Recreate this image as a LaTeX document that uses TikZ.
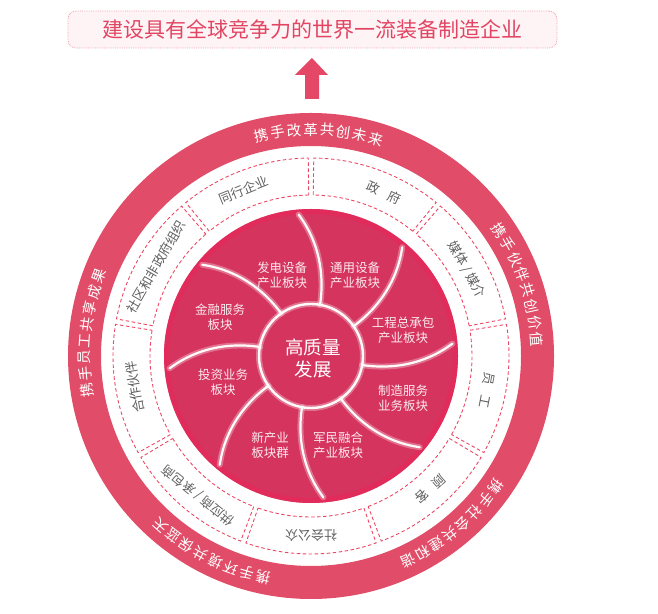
\documentclass[tikz,border=0pt]{standalone}
\usepackage{fontspec}
\setmainfont{Noto Sans CJK SC}
\definecolor{ringred}{RGB}{225,77,104}
\definecolor{diskred}{RGB}{213,52,94}
\definecolor{rimred}{RGB}{233,38,88}
\definecolor{dashred}{RGB}{236,72,102}
\definecolor{labgray}{RGB}{95,95,95}
\definecolor{bannerfill}{RGB}{254,244,246}
\definecolor{bannerline}{RGB}{240,160,175}
\definecolor{bannertext}{RGB}{226,68,98}
\definecolor{arrowred}{RGB}{228,72,102}
\definecolor{innertext}{RGB}{252,234,238}
\newcommand\ringtext[3]{%
  \foreach \ch [count=\i] in {#3} {%
    \pgfmathsetmacro\ang{#1-(\i-4.5)*4.2}%
    \node[outertxt, rotate=\ang-90] (#2-\i) at (\ang:226.5) {\ch};%
  }%
}
\begin{document}
\begin{tikzpicture}[x=1pt,y=1pt,
  outertxt/.style={text=white, font=\fontsize{14.5}{14.5}\selectfont, inner sep=0pt},
  midtxt/.style={text=labgray, font=\fontsize{13}{13}\selectfont, inner sep=0pt},
  sectxt/.style={text=innertext, font=\fontsize{12.5}{15}\selectfont, align=center, inner sep=0pt},
  centtxt/.style={text=white, font=\fontsize{18.5}{22}\selectfont, align=center, inner sep=0pt},
  segdash/.style={draw=dashred, line width=0.9pt, dash pattern=on 3.5pt off 2.5pt},
  armglow/.style={line width=6pt, color=white, opacity=0.3, line cap=round},
  armline/.style={line width=2.2pt, color=white!92!pink, line cap=round},
  banner/.style={draw=bannerline, densely dotted, line width=0.8pt, fill=bannerfill,
    rounded corners=8pt, minimum width=489pt, minimum height=37pt,
    text=bannertext, font=\fontsize{21}{21}\selectfont, inner sep=0pt},
]
\useasboundingbox (0,0) rectangle (658,613);
% banner
\node[banner] (goal) at (312.5,583.5) {建设具有全球竞争力的世界一流装备制造企业};
% arrow
\fill[arrowred] (305,514) -- (305,538) -- (295,538) -- (312,555) -- (328,538) -- (319,538) -- (319,514) -- cycle;
\begin{scope}[shift={(311,257)}]
  % outer ring
  \fill[ringred, even odd rule] (0,0) circle (243) (0,0) circle (210);
  % middle ring segments
  \foreach \k in {0,...,8} {
    \pgfmathsetmacro\e{90-40*\k-0.8}
    \pgfmathsetmacro\s{90-40*\k-40+0.8}
    \draw[segdash] (\s:161) arc[start angle=\s, end angle=\e, radius=161]
      -- (\e:198) arc[start angle=\e, end angle=\s, radius=198] -- cycle;
  }
  % inner disk
  \fill[diskred] (0,0) circle (147);
  \draw[rimred, line width=5pt, opacity=0.6] (0,0) circle (144.5);
  % arms
  \foreach \a in {80,35,-10,-55,-100,-145,170,125} {
    \draw[armglow] plot[smooth, variable=\t, domain=0:1, samples=12]
      ({(52+90*\t)*cos(\a+15*\t*sqrt(\t))}, {(52+90*\t)*sin(\a+15*\t*sqrt(\t))});
    \draw[armline] plot[smooth, variable=\t, domain=0:1, samples=12]
      ({(52+90*\t)*cos(\a+15*\t*sqrt(\t))}, {(52+90*\t)*sin(\a+15*\t*sqrt(\t))});
  }
  % center circle
  \draw[white, line width=6pt, opacity=0.3] (0,0) circle (52);
  \draw[white!92!pink, line width=2.4pt] (0,0) circle (52);
  \node[centtxt] (core) at (2,-2) {高质量\\发展};
  % sector labels
  \node[sectxt] (s1) at (-29,81) {发电设备\\产业板块};
  \node[sectxt] (s2) at (44,81) {通用设备\\产业板块};
  \node[sectxt] (s3) at (92,26) {工程总承包\\产业板块};
  \node[sectxt] (s4) at (92,-42) {制造服务\\业务板块};
  \node[sectxt] (s5) at (27,-89) {军民融合\\产业板块};
  \node[sectxt] (s6) at (-41,-89) {新产业\\板块群};
  \node[sectxt] (s7) at (-88,-26) {投资业务\\板块};
  \node[sectxt] (s8) at (-91,39) {金融服务\\板块};
  % middle ring labels
  \node[midtxt, rotate=22] (m1) at (112:179) {同行企业};
  \node[midtxt, rotate=-24] (m2) at (66:179) {政\hspace{0.8em}府};
  \node[midtxt, rotate=-61] (m3) at (29:178) {媒体\hspace{0.2em}/\hspace{0.2em}媒介};
  \node[midtxt, rotate=-101] (m4) at (-11:179) {员\hspace{0.8em}工};
  \node[midtxt, rotate=-138] (m5) at (-48:179) {顾\hspace{0.8em}客};
  \node[midtxt, rotate=-180] (m6) at (-90:179) {社会公众};
  \node[midtxt, rotate=-219] (m7) at (-129:179) {供应商\hspace{0.2em}/\hspace{0.2em}承包商};
  \node[midtxt, rotate=100] (m8) at (190:179) {合作伙伴};
  \node[midtxt, rotate=60] (m9) at (150:179) {社区和非政府组织};
  % outer ring texts
  \ringtext{88}{ta}{携,手,改,革,共,创,未,来}
  \ringtext{19}{tb}{携,手,伙,伴,共,创,价,值}
  \ringtext{-50}{tc}{携,手,社,会,共,建,和,谐}
  \ringtext{-117}{td}{携,手,环,境,共,保,蓝,天}
  \ringtext{174}{te}{携,手,员,工,共,享,成,果}
\end{scope}
\end{tikzpicture}
\end{document}
